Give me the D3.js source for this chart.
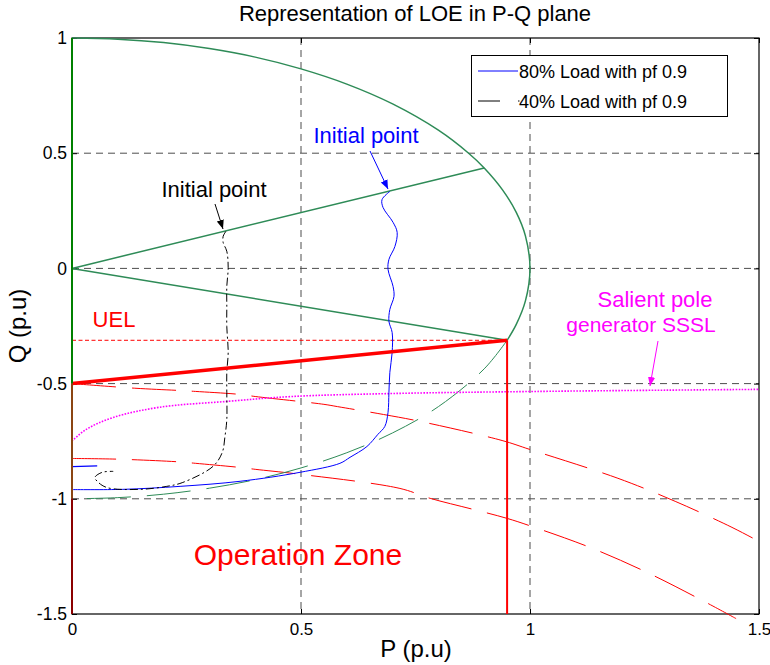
<!DOCTYPE html>
<html><head><meta charset="utf-8">
<script src="https://cdn.jsdelivr.net/npm/d3@7/dist/d3.min.js"></script>
<style>body{margin:0;background:#fff}svg{display:block}text{font-family:"Liberation Sans",Arial,sans-serif}</style>
</head><body><svg id="c" width="770" height="665"></svg>
<script>
// ---------- data ----------
const xTicks = [0, 0.5, 1, 1.5];
const yTicks = [-1.5, -1, -0.5, 0, 0.5, 1];
const xTickLabels = ["0", "0.5", "1", "1.5"];
const yTickLabels = ["-1.5", "-1", "-0.5", "0", "0.5", "1"];

// capability circle, solid upper part
const arcP = [0, 0.1, 0.2, 0.3, 0.4, 0.5, 0.6, 0.7, 0.8, 0.866, 0.9, 0.94, 0.97, 0.99, 1.0, 0.99, 0.97, 0.95];
const arcQ = [1, 0.995, 0.98, 0.954, 0.917, 0.866, 0.8, 0.714, 0.6, 0.5, 0.436, 0.341, 0.243, 0.141, 0, -0.141, -0.243, -0.312];
// capability circle, dashed lower part
const arcLowP = [0.95, 0.9, 0.8, 0.7, 0.6, 0.5, 0.4, 0.3, 0.2, 0.1, 0];
const arcLowQ = [-0.312, -0.436, -0.6, -0.714, -0.8, -0.866, -0.917, -0.954, -0.98, -0.995, -1];
// lines from origin
const rayUpP = [0, 0.9], rayUpQ = [0, 0.436];
const rayDnP = [0, 0.95], rayDnQ = [0, -0.312];
// UEL
const uelP = [0, 0.95], uelQ = [-0.5, -0.312];
const uelRefP = [0, 0.95], uelRefQ = [-0.312, -0.312];
const limitP = [0.95, 0.95], limitQ = [-0.312, -1.5];
// red dashed curves
const redUpP = [0, 0.137, 0.236, 0.27, 0.367, 0.40, 0.55, 0.58, 0.68, 0.76, 0.939, 1.0, 1.192, 1.317, 1.441, 1.5];
const redUpQ = [-0.5, -0.52, -0.53, -0.534, -0.547, -0.556, -0.59, -0.60, -0.634, -0.664, -0.747, -0.786, -0.911, -1.011, -1.124, -1.185];
const redLoP = [0, 0.1, 0.236, 0.27, 0.367, 0.40, 0.5, 0.716, 0.782, 0.876, 0.95, 1.004, 1.131, 1.255, 1.376, 1.45];
const redLoQ = [-0.825, -0.828, -0.84, -0.846, -0.864, -0.872, -0.894, -0.955, -0.998, -1.046, -1.085, -1.12, -1.211, -1.319, -1.441, -1.52];
// salient pole SSSL
const ssslP = [0, 0.03, 0.09, 0.19, 0.34, 0.48, 0.70, 1.015, 1.5];
const ssslQ = [-0.75, -0.70, -0.647, -0.603, -0.577, -0.556, -0.543, -0.534, -0.525];
// 80% load trajectory
const load80P = [0.694, 0.677, 0.679, 0.701, 0.710, 0.705, 0.692, 0.690, 0.701, 0.703, 0.694, 0.692, 0.699, 0.699, 0.694, 0.692, 0.690, 0.683, 0.668, 0.644, 0.607, 0.585, 0.498, 0.367, 0.236, 0.111, 0];
const load80Q = [0.334, 0.299, 0.265, 0.200, 0.156, 0.095, 0.039, -0.004, -0.078, -0.122, -0.178, -0.230, -0.278, -0.365, -0.451, -0.538, -0.625, -0.686, -0.720, -0.773, -0.820, -0.846, -0.885, -0.924, -0.946, -0.959, -0.96];
const load80TailP = [0, 0.055];
const load80TailQ = [-0.86, -0.857];
// 40% load trajectory
const load40P = [0.336, 0.330, 0.330, 0.338, 0.341, 0.338, 0.338, 0.338, 0.341, 0.338, 0.338, 0.338, 0.334, 0.328, 0.308, 0.242, 0.207, 0.148, 0.076, 0.055, 0.050, 0.066, 0.090];
const load40Q = [0.161, 0.139, 0.113, 0.074, 0.004, -0.078, -0.165, -0.252, -0.365, -0.451, -0.538, -0.655, -0.729, -0.799, -0.859, -0.929, -0.946, -0.959, -0.951, -0.924, -0.907, -0.885, -0.881];
// left edge segments
const edgeTopQ = [1, -0.5], edgeMidQ = [-0.5, -1], edgeBotQ = [-1, -1.5];
const legendLabels = ["80% Load with pf 0.9", "40% Load with pf 0.9"];

// ---------- chart ----------
const svg = d3.select("#c");
const L = 72, R = 759, T = 38, B = 614;
const x = d3.scaleLinear().domain([0, 1.5]).range([L, R]);
const y = d3.scaleLinear().domain([-1.5, 1]).range([B, T]);
const pts = (P, Q) => P.map((p, i) => [p, Q[i]]);
const line = d3.line().x(d => x(d[0])).y(d => y(d[1]));
const smooth = d3.line().x(d => x(d[0])).y(d => y(d[1])).curve(d3.curveCatmullRom);

svg.append("rect").attr("x", 0).attr("y", 0).attr("width", 770).attr("height", 665).attr("fill", "#fff");

// grid
const grid = svg.append("g").attr("stroke", "#4d4d4d").attr("stroke-width", 1).attr("stroke-dasharray", "7,5");
xTicks.filter(v => v > 0 && v < 1.5).forEach(v => grid.append("line").attr("x1", x(v)).attr("x2", x(v)).attr("y1", T).attr("y2", B));
yTicks.filter(v => v > -1.5 && v < 1).forEach(v => grid.append("line").attr("x1", L).attr("x2", R).attr("y1", y(v)).attr("y2", y(v)));

// axes
const fmtX = (d, i) => xTickLabels[i], fmtY = (d, i) => yTickLabels[i];
svg.append("g").attr("transform", `translate(0,${B})`)
  .call(d3.axisBottom(x).tickValues(xTicks).tickFormat(fmtX).tickSizeInner(-5).tickSizeOuter(0).tickPadding(9))
  .call(g => { g.select(".domain").remove(); g.selectAll("text").attr("font-size", 17).attr("fill", "#000").attr("font-family", "Liberation Sans, Arial"); g.selectAll("line").attr("stroke", "#000"); });
svg.append("g").attr("transform", `translate(0,${T})`)
  .call(d3.axisTop(x).tickValues(xTicks).tickFormat("").tickSizeInner(-5).tickSizeOuter(0))
  .call(g => g.select(".domain").remove());
svg.append("g").attr("transform", `translate(${L},0)`)
  .call(d3.axisLeft(y).tickValues(yTicks).tickFormat(fmtY).tickSizeInner(-5).tickSizeOuter(0).tickPadding(5))
  .call(g => { g.select(".domain").remove(); g.selectAll("text").attr("font-size", 17.5).attr("fill", "#000").attr("font-family", "Liberation Sans, Arial"); });
svg.append("g").attr("transform", `translate(${R},0)`)
  .call(d3.axisRight(y).tickValues(yTicks).tickFormat("").tickSizeInner(-5).tickSizeOuter(0))
  .call(g => g.select(".domain").remove());
svg.append("rect").attr("x", L).attr("y", T).attr("width", R - L).attr("height", B - T).attr("fill", "none").attr("stroke", "#000").attr("stroke-width", 1.2);

// curves
const draw = (data, color, w, dash, gen) => svg.append("path").attr("d", (gen || line)(data)).attr("fill", "none")
  .attr("stroke", color).attr("stroke-width", w).attr("stroke-dasharray", dash || null);
const green = "#2e8b57";
draw(pts(redUpP, redUpQ), "#ff0000", 1, "44,16", smooth);
draw(pts(redLoP, redLoQ), "#ff0000", 1, "44,16", smooth);
draw(pts(arcLowP, arcLowQ), green, 1, "44,16", smooth);
draw(pts(ssslP, ssslQ), "#ff00ff", 1.6, "1.6,1.4", smooth);
draw(pts(uelRefP, uelRefQ), "#ff0000", 1, "4,2.5");
draw(pts(arcP, arcQ), green, 1.5, null, smooth);
draw(pts(rayUpP, rayUpQ), green, 1.5);
draw(pts(rayDnP, rayDnQ), green, 1.5);
draw(pts(load80P, load80Q), "#0000ff", 1, null, smooth);
draw(pts(load80TailP, load80TailQ), "#0000ff", 1.2);
draw(pts(load40P, load40Q), "#000", 1, "8,3,2,3", smooth);
draw(pts(uelP, uelQ), "#ff0000", 3.5);
draw(pts(limitP, limitQ), "#ff0000", 2);
draw(pts([0, 0], edgeTopQ), "#008000", 2);
draw(pts([0, 0], edgeMidQ), "#8b4513", 2);
draw(pts([0, 0], edgeBotQ), "#8b0000", 2);

// arrows
const defs = svg.append("defs");
[["ab", "#0000ff"], ["ak", "#000"], ["am", "#ff00ff"]].forEach(([id, c]) => {
  defs.append("marker").attr("id", id).attr("viewBox", "0 0 10 10").attr("refX", 10).attr("refY", 5)
    .attr("markerWidth", 9).attr("markerHeight", 9).attr("markerUnits", "userSpaceOnUse").attr("orient", "auto")
    .append("path").attr("d", "M0,1 L10,5 L0,9 Z").attr("fill", c);
});
const arrow = (x1, y1, x2, y2, c, id) => svg.append("line").attr("x1", x1).attr("y1", y1).attr("x2", x2).attr("y2", y2)
  .attr("stroke", c).attr("stroke-width", 1).attr("marker-end", `url(#${id})`);
arrow(370, 151, 388, 189, "#0000ff", "ab");
arrow(215, 204, 223, 229, "#000", "ak");
arrow(658, 341, 650, 386, "#ff00ff", "am");

// texts
const txt = (s, tx, ty, size, color, anchor) => svg.append("text").attr("x", tx).attr("y", ty).attr("font-size", size)
  .attr("fill", color).attr("text-anchor", anchor || "start").text(s);
txt("Representation of LOE in P-Q plane", 415, 21, 22, "#000", "middle");
txt("P (p.u)", 416, 657, 24, "#000", "middle");
svg.append("text").attr("transform", "translate(26,326) rotate(-90)").attr("font-size", 24).attr("text-anchor", "middle").text("Q (p.u)");
txt("Initial point", 366, 143, 22, "#0000ff", "middle");
txt("Initial point", 214, 197, 22, "#000", "middle");
txt("UEL", 114, 327, 22, "#ff0000", "middle");
txt("Salient pole", 655, 307, 22, "#ff00ff", "middle");
txt("generator SSSL", 641, 332, 21, "#ff00ff", "middle");
txt("Operation Zone", 298, 565, 30, "#ff0000", "middle");

// legend
const lg = svg.append("g");
lg.append("rect").attr("x", 471.5).attr("y", 55.5).attr("width", 256).attr("height", 61).attr("fill", "#fff").attr("stroke", "#000");
lg.append("line").attr("x1", 478).attr("x2", 518).attr("y1", 71).attr("y2", 71).attr("stroke", "#0000ff");
lg.append("line").attr("x1", 478).attr("x2", 520).attr("y1", 101).attr("y2", 101).attr("stroke", "#000").attr("stroke-dasharray", "22,18,1.5,3");
legendLabels.forEach((s, i) => txt(s, 519, 78 + i * 30, 18, "#000"));
</script></body></html>
